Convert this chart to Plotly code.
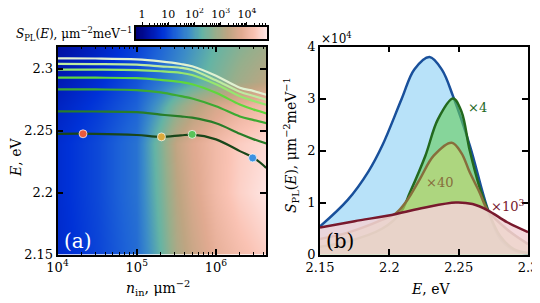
import numpy as np
import plotly.graph_objects as go

# ---------------- data ----------------
# panel (a) heatmap: log10 S_PL read from colours
hm_logn = [3.95, 4.5, 5.0, 5.3, 5.5, 5.7, 6.0, 6.3, 6.7]
hm_E = [2.14, 2.2, 2.24, 2.27, 2.29, 2.33]
hm_row_214 = [0.6, 0.95, 1.35, 2.25, 3.0, 3.4, 3.85, 4.1, 4.4]
hm_row_220 = [0.65, 1.0, 1.45, 2.45, 3.2, 3.65, 4.1, 4.45, 4.75]
hm_row_224 = [0.65, 1.0, 1.45, 2.55, 3.35, 3.75, 4.1, 4.4, 4.6]
hm_row_227 = [0.5, 0.85, 1.25, 2.0, 2.6, 3.1, 3.6, 3.9, 4.2]
hm_row_229 = [0.35, 0.7, 1.1, 1.5, 1.8, 2.1, 2.5, 2.9, 3.3]
hm_row_233 = [0.05, 0.45, 0.85, 1.2, 1.5, 1.8, 2.2, 2.5, 2.8]

# panel (a) lines: E vs n_in
line_n = [1e4, 3e4, 1e5, 2e5, 3.6e5, 5e5, 1e6, 2e6, 3e6, 4.3e6]
line1_E = [2.2475, 2.2475, 2.2465, 2.245, 2.2462, 2.2468, 2.243, 2.2335, 2.228, 2.220]
line2_E = [2.2656, 2.2655, 2.265, 2.263, 2.2615, 2.2605, 2.256, 2.2475, 2.243, 2.2396]
line3_E = [2.2834, 2.2833, 2.2828, 2.281, 2.2779, 2.276, 2.2697, 2.2615, 2.2585, 2.256]
line4_E = [2.2929, 2.2928, 2.2924, 2.291, 2.2893, 2.2875, 2.2806, 2.2711, 2.267, 2.264]
line5_E = [2.2994, 2.2993, 2.2989, 2.298, 2.2967, 2.295, 2.2875, 2.2779, 2.274, 2.271]
line6_E = [2.3039, 2.3038, 2.3033, 2.302, 2.3008, 2.299, 2.2907, 2.2814, 2.278, 2.275]
line7_E = [2.3084, 2.3083, 2.3076, 2.306, 2.3039, 2.302, 2.2943, 2.2847, 2.282, 2.279]

dot_n = [2.1e4, 2.05e5, 5e5, 2.9e6]
dot_E = [2.2475, 2.245, 2.247, 2.228]

# panel (b) spectra (units of 1e4 um^-2 meV^-1)
blue_E = [2.15, 2.17, 2.185, 2.195, 2.209, 2.218, 2.229, 2.238, 2.246, 2.258, 2.271, 2.28, 2.29, 2.3]
blue_S = [0.54, 1.05, 1.6, 2.1, 3.0, 3.56, 3.8, 3.55, 3.04, 2.1, 0.87, 0.3, 0.08, 0.02]
green_E = [2.15, 2.17, 2.195, 2.208, 2.215, 2.226, 2.235, 2.246, 2.252, 2.258, 2.265, 2.271, 2.28, 2.29, 2.3]
green_S = [0.15, 0.25, 0.5, 0.8, 1.2, 1.9, 2.6, 3.0, 2.75, 2.0, 1.3, 0.85, 0.35, 0.1, 0.03]
olive_E = [2.15, 2.17, 2.195, 2.205, 2.213, 2.222, 2.232, 2.245, 2.252, 2.258, 2.265, 2.271, 2.285, 2.3]
olive_S = [0.3, 0.42, 0.67, 0.8, 1.05, 1.45, 1.9, 2.15, 1.95, 1.58, 1.2, 0.85, 0.48, 0.2]
red_E = [2.15, 2.175, 2.205, 2.225, 2.248, 2.26, 2.271, 2.285, 2.3]
red_S = [0.52, 0.64, 0.78, 0.9, 1.0, 0.97, 0.85, 0.62, 0.43]

CMIN, CMAX = -0.23, 4.77

# ---------------- styling ----------------
FONT = "DejaVu Serif"
W, H = 540, 303
OFF = 8  # page body margin offsets the figure in the window
cscale = [
    [0.0, "rgb(0,0,120)"], [0.1, "rgb(0,20,170)"], [0.2, "rgb(0,50,215)"],
    [0.3, "rgb(30,100,215)"], [0.4, "rgb(60,140,200)"], [0.5, "rgb(100,180,165)"],
    [0.6, "rgb(150,175,140)"], [0.7, "rgb(190,165,130)"], [0.8, "rgb(225,170,145)"],
    [0.9, "rgb(250,195,180)"], [1.0, "rgb(255,235,235)"],
]

def px(x):
    return (x - OFF) / W

def py(y):
    return 1 - (y - OFF) / H

fig = go.Figure()

hm_z = [hm_row_214, hm_row_220, hm_row_224, hm_row_227, hm_row_229, hm_row_233]
fig.add_trace(go.Heatmap(
    x=[10 ** v for v in hm_logn], y=hm_E, z=hm_z, zmin=CMIN, zmax=CMAX,
    colorscale=cscale, zsmooth="best", showscale=False, hoverinfo="skip",
    xaxis="x", yaxis="y"))

line_cols = ["rgb(25,70,25)", "rgb(40,125,40)", "rgb(60,170,50)", "rgb(95,215,60)",
             "rgb(150,230,110)", "rgb(190,235,160)", "rgb(225,242,210)"]
for E, c in zip([line1_E, line2_E, line3_E, line4_E, line5_E, line6_E, line7_E], line_cols):
    fig.add_trace(go.Scatter(x=line_n, y=E, mode="lines", line=dict(color=c, width=2.2, shape="spline"),
                             xaxis="x", yaxis="y", hoverinfo="skip"))

fig.add_trace(go.Scatter(
    x=dot_n, y=dot_E, mode="markers", xaxis="x", yaxis="y",
    marker=dict(size=8, color=["rgb(235,90,60)", "rgb(220,170,60)", "rgb(90,195,90)", "rgb(60,145,225)"],
                line=dict(color="rgba(255,255,255,0.7)", width=1))))

# colour bar drawn as its own small axes
cb_v = np.linspace(CMIN, CMAX, 120)
fig.add_trace(go.Heatmap(x=10 ** cb_v, y=[0, 1], z=[cb_v, cb_v], zmin=CMIN, zmax=CMAX,
                         colorscale=cscale, zsmooth="best", showscale=False, hoverinfo="skip",
                         xaxis="x3", yaxis="y3"))

# panel (b): translucent fills
spectra = [
    (blue_E, blue_S, "rgb(25,80,155)", "rgba(184,226,249,1.0)"),
    (green_E, green_S, "rgb(35,105,30)", "rgba(100,205,90,0.6)"),
    (olive_E, olive_S, "rgb(135,110,60)", "rgba(200,215,110,0.6)"),
    (red_E, red_S, "rgb(120,25,45)", "rgba(242,210,214,0.85)"),
]
for E, S, lc, flat in spectra:
    ys = [s * 1e4 for s in S]
    fig.add_trace(go.Scatter(
        x=E, y=ys, mode="lines", line=dict(color=lc, width=2.5, shape="spline"),
        fill="tozeroy", fillcolor=flat,
        xaxis="x2", yaxis="y2", hoverinfo="skip"))

tickfont = dict(family=FONT, size=13, color="black")
axcommon = dict(showline=True, linecolor="black", linewidth=1.5, mirror="allticks",
                ticks="inside", ticklen=6, tickwidth=1.5, tickcolor="black", automargin=False,
                showgrid=False, zeroline=False, tickfont=tickfont)

minor_vals = [k * 10 ** p for p in (4, 5, 6) for k in range(2, 10) if k * 10 ** p < 4.3e6]
ydom = [py(254.5), py(46.5)]

fig.update_layout(
    width=W, height=H, margin=dict(l=0, r=0, t=0, b=0, autoexpand=False),
    paper_bgcolor="white", plot_bgcolor="white", showlegend=False,
    font=dict(family=FONT, color="black"),
    xaxis=dict(type="log", domain=[px(57.5), px(266)], range=[4, 6.631], anchor="y",
               tickvals=[1e4, 1e5, 1e6], ticktext=["10<sup>4</sup>", "10<sup>5</sup>", "10<sup>6</sup>"],
               minor=dict(tickvals=minor_vals, ticks="inside", ticklen=3, tickwidth=1, tickcolor="black"),
               **axcommon),
    yaxis=dict(domain=ydom, range=[2.15, 2.318], anchor="x", tick0=2.15, dtick=0.05, **axcommon),
    xaxis2=dict(domain=[px(320), px(528)], range=[2.15, 2.3], anchor="y2", tick0=2.15, dtick=0.05,
                **axcommon),
    yaxis2=dict(domain=ydom, range=[0, 40000], anchor="x2", tickvals=[0, 1e4, 2e4, 3e4, 4e4],
                ticktext=["0", "1", "2", "3", "4"], **axcommon),
    xaxis3=dict(type="log", domain=[px(136), px(267)], range=[CMIN, CMAX], anchor="y3", side="top",
                showline=True, linecolor="black", linewidth=1.5, mirror=True, automargin=False,
                ticks="outside", ticklen=3, tickwidth=1, tickcolor="black",
                tickvals=[1, 10, 100, 1000, 10000],
                ticktext=["1", "10", "10<sup>2</sup>", "10<sup>3</sup>", "10<sup>4</sup>"],
                minor=dict(tickvals=[k * 10 ** p for p in range(0, 5) for k in range(2, 10)],
                           ticks="outside", ticklen=2, tickwidth=1, tickcolor="black"),
                tickfont=dict(family=FONT, size=11, color="black"), showgrid=False, zeroline=False),
    yaxis3=dict(domain=[py(39), py(27)], range=[0, 1], anchor="x3", showticklabels=False, ticks="",
                automargin=False, showline=True, linecolor="black", linewidth=1.5, mirror=True,
                showgrid=False, zeroline=False),
)

ann = []
def A(x, y, text, size=14, color="black", xanchor="center", yanchor="middle", angle=0):
    ann.append(dict(x=px(x), y=py(y), xref="paper", yref="paper", text=text, showarrow=False,
                    font=dict(family=FONT, size=size, color=color), xanchor=xanchor, yanchor=yanchor,
                    textangle=angle))

spl = "<i>S</i><sub>PL</sub>(<i>E</i>), μm<sup>−2</sup>meV<sup>−1</sup>"
A(134, 34, spl, size=12, xanchor="right")
A(16, 158, "<i>E</i>, eV", angle=-90)
A(158, 288, "<i>n</i><sub>in</sub>, μm<sup>−2</sup>")
A(62, 241, "(a)", size=20, color="white", xanchor="left")
A(324, 241, "(b)", size=20, xanchor="left")
A(291, 145, spl, size=14, angle=-90)
A(430, 289, "<i>E</i>, eV")
A(319, 38, "×10<sup>4</sup>", size=12, xanchor="left")
A(466, 107, "×4", size=13, color="rgb(35,105,30)", xanchor="left")
A(424, 182, "×40", size=13, color="rgb(135,110,60)", xanchor="left")
A(489, 206, "×10<sup>3</sup>", size=13, color="rgb(120,25,45)", xanchor="left")
fig.update_layout(annotations=ann)

fig.write_html("out.html")
